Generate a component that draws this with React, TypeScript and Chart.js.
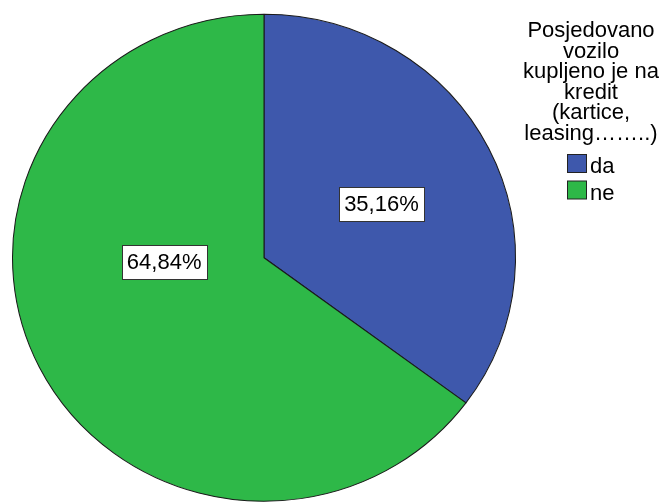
import React, { useEffect, useRef } from "react";
import { Chart, registerables } from "chart.js";

Chart.register(...registerables);

const categories = ["da", "ne"];
const values = [35.16, 64.84];
const valueLabels = ["35,16%", "64,84%"];
const legendTitle = ["Posjedovano", "vozilo", "kupljeno je na", "kredit", "(kartice,", "leasing\u2026\u2026..)"];

const colors = ["#3e58ac", "#2eb848"];
const FONT = '22px "Liberation Sans", Arial, sans-serif';
const SCALE_X = 252 / 244;
// label placement relative to pie centre, in units of radius
const labelOffsets = [
  [0.467, -0.219],
  [-0.397, 0.016],
];

const piePlugin = {
  id: "spssPie",
  beforeDatasetsDraw(chart: any) {
    const meta = chart.getDatasetMeta(0);
    const arc = meta.data[0];
    const ctx = chart.ctx;
    ctx.save();
    ctx.translate(arc.x, arc.y);
    ctx.scale(SCALE_X, 1);
    ctx.translate(-arc.x, -arc.y);
  },
  afterDatasetsDraw(chart: any) {
    const ctx = chart.ctx;
    ctx.restore();
    const meta = chart.getDatasetMeta(0);
    meta.data.forEach((arc: any, i: number) => {
      const r = arc.outerRadius;
      const cx = arc.x + labelOffsets[i][0] * r * SCALE_X;
      const cy = arc.y + labelOffsets[i][1] * r;
      ctx.save();
      ctx.font = FONT;
      const w = ctx.measureText(valueLabels[i]).width + 10;
      const h = 34;
      ctx.fillStyle = "#ffffff";
      ctx.fillRect(Math.round(cx - w / 2) + 0.5, Math.round(cy - h / 2) + 0.5, Math.round(w), h);
      ctx.strokeStyle = "#333333";
      ctx.lineWidth = 1;
      ctx.strokeRect(Math.round(cx - w / 2) + 0.5, Math.round(cy - h / 2) + 0.5, Math.round(w), h);
      ctx.fillStyle = "#000000";
      ctx.textAlign = "center";
      ctx.textBaseline = "middle";
      ctx.fillText(valueLabels[i], cx, cy + 1);
      ctx.restore();
    });
  },
  afterDraw(chart: any) {
    const ctx = chart.ctx;
    ctx.save();
    ctx.font = FONT;
    ctx.fillStyle = "#000000";
    ctx.textAlign = "center";
    ctx.textBaseline = "alphabetic";
    const tx = 591;
    legendTitle.forEach((line, i) => {
      ctx.fillText(line, tx, 37 + i * 20.5);
    });
    categories.forEach((c, i) => {
      const y = 154 + i * 26.5;
      ctx.fillStyle = colors[i];
      ctx.fillRect(567.5, y + 0.5, 19, 18);
      ctx.strokeStyle = "#222222";
      ctx.lineWidth = 1;
      ctx.strokeRect(567.5, y + 0.5, 19, 18);
      ctx.fillStyle = "#000000";
      ctx.textAlign = "left";
      ctx.fillText(c, 590, y + 19);
    });
    ctx.restore();
  },
};

export default function App() {
  const ref = useRef<HTMLCanvasElement>(null);
  useEffect(() => {
    const chart = new Chart(ref.current!, {
      type: "pie",
      data: {
        labels: categories,
        datasets: [
          {
            data: values,
            backgroundColor: colors,
            borderColor: "#1a1a1a",
            borderWidth: 1,
            clip: false as any,
          },
        ],
      },
      options: {
        responsive: false,
        animation: false,
        layout: { padding: { left: 20, right: 155, top: 13.5, bottom: 0 } },
        plugins: {
          legend: { display: false },
          tooltip: { enabled: false },
        },
      },
      plugins: [piePlugin],
    });
    return () => chart.destroy();
  }, []);
  return (
    <div style={{ position: "fixed", left: 0, top: 0, width: 663, height: 502, background: "#fff" }}>
      <canvas ref={ref} width={663} height={502} />
    </div>
  );
}
